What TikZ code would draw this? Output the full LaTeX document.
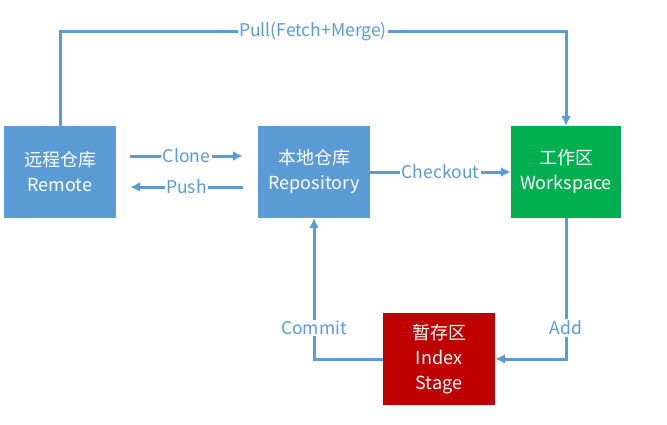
\documentclass[tikz,border=0pt]{standalone}
\usepackage{fontspec}
\setmainfont{Noto Sans CJK SC}
\usetikzlibrary{arrows.meta}

\definecolor{gitblue}{HTML}{5B9BD5}
\definecolor{gitgreen}{HTML}{00B050}
\definecolor{gitred}{HTML}{C00000}

\tikzset{
  area/.style={minimum width=112pt, minimum height=92pt, inner sep=0pt,
    align=center, text=white, font=\fontsize{18}{25}\selectfont},
  flow/.style={draw=gitblue, line width=3pt, -{Latex[length=10pt,width=10pt]}},
  lbl/.style={fill=white, text=gitblue, inner sep=1.5pt,
    font=\fontsize{17.5}{20}\selectfont}
}

\begin{document}
\begin{tikzpicture}[x=1pt, y=-1pt]
    \useasboundingbox (0,0) rectangle (667,424);

    % the four areas
    \node[area, fill=gitblue]  (remote) at (60,172)  {远程仓库\\Remote};
    \node[area, fill=gitblue]  (repo)   at (314,172) {本地仓库\\Repository};
    \node[area, fill=gitgreen, minimum width=110pt] (work) at (566,172) {工作区\\Workspace};
    \node[area, fill=gitred]   (index)  at (439,359) {暂存区\\Index\\Stage};

    % remote <-> repository
    \draw[flow] ([xshift=14pt, yshift=16pt]remote.east)
      -- node[lbl] {Clone} ([xshift=-15pt, yshift=16pt]repo.west);
    \draw[flow] ([xshift=-15pt, yshift=-15pt]repo.west)
      -- node[lbl] {Push} ([xshift=14pt, yshift=-15pt]remote.east);

    \draw[flow] (repo.east) -- node[lbl] {Checkout} (work.west);

    % pull goes over the top
    \draw[flow] (remote.north) -- ++(0,-94)
      -| node[lbl, pos=0.25] {Pull(Fetch+Merge)} (work.north);

    % add and commit round the bottom
    \draw[flow] (work.south) |- node[lbl, pos=0.39] {Add} (index.east);
    \draw[flow] (index.west) -| node[lbl, pos=0.61] {Commit} (repo.south);
  \end{tikzpicture}
\end{document}
